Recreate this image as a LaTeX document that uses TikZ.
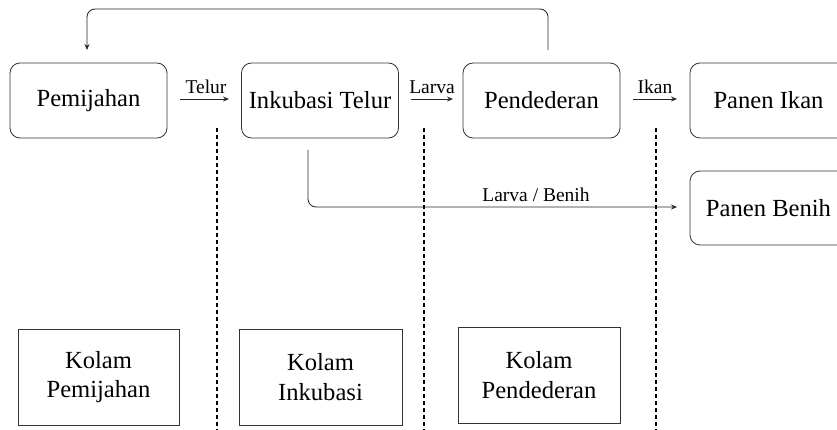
\documentclass[tikz,border=0pt]{standalone}
\usepackage{fontspec}
\setmainfont{Liberation Serif}
\usetikzlibrary{arrows.meta}
\begin{document}
\begin{tikzpicture}[x=1pt,y=-1pt,
  every node/.style={inner sep=0pt,outer sep=0pt},
  proc/.style={draw=black!80,line width=0.8pt,rounded corners=10pt,minimum width=157pt,minimum height=75pt,font=\fontsize{24.6}{29.5}\selectfont},
  pond/.style={draw=black!80,line width=0.8pt,minimum height=96pt,align=center,font=\fontsize{24.6}{29.5}\selectfont},
  flow/.style={draw=black!85,line width=0.8pt,-{Stealth[length=6pt,width=5pt]}},
  lbl/.style={font=\fontsize{19.5}{22}\selectfont,anchor=base},
  sep/.style={draw=black,line width=1.1pt,dash pattern=on 4pt off 3pt}]
\clip (0,0) rectangle (837,430);
\fill[white] (0,0) rectangle (837,430);
% process boxes
\node[proc] (pem) at (88.5,100.5) {Pemijahan};
\node[proc] (ink) at (320,100.5) {Inkubasi Telur};
\node[proc] (pend) at (541.5,100.5) {Pendederan};
\node[proc] (ikan) at (768.5,100.5) {Panen Ikan};
\node[proc,minimum height=74pt] (benih) at (768.5,208) {Panen Benih};
% pond boxes
\node[pond,minimum width=161pt] (kp) at (98.5,377) {Kolam\\Pemijahan};
\node[pond,minimum width=163pt] (ki) at (320.5,377) {Kolam\\Inkubasi};
\node[pond,minimum width=162pt] (kd) at (539,375) {Kolam\\Pendederan};
% separators
\coordinate (s1t) at (217,128); \coordinate (s1b) at (217,430);
\coordinate (s2t) at (424,128); \coordinate (s2b) at (424,430);
\coordinate (s3t) at (656,128); \coordinate (s3b) at (656,430);
\draw[sep] (s1t) -- (s1b);
\draw[sep] (s2t) -- (s2b);
\draw[sep] (s3t) -- (s3b);
% short flow arrows
\coordinate (a1s) at (180,99); \coordinate (a1e) at (229,99);
\coordinate (a2s) at (411,99); \coordinate (a2e) at (453,99);
\coordinate (a3s) at (633,99); \coordinate (a3e) at (677,99);
\draw[flow] (a1s) -- (a1e);
\draw[flow] (a2s) -- (a2e);
\draw[flow] (a3s) -- (a3e);
\node[lbl] (lt) at (206,94) {Telur};
\node[lbl] (ll) at (432,94) {Larva};
\node[lbl] (li) at (655,94) {Ikan};
% feedback loop
\coordinate (fb1) at (548,50);
\coordinate (fb2) at (87,50);
\draw[flow,rounded corners=8pt] (fb1) -- (548,9) -- (87,9) -- (fb2);
% larva / benih branch
\coordinate (lb1) at (308,150);
\coordinate (lb2) at (677,207);
\draw[flow,rounded corners=8pt] (lb1) -- (308,207) -- (lb2);
\node[lbl] (llb) at (536,202) {Larva / Benih};
\end{tikzpicture}
\end{document}
